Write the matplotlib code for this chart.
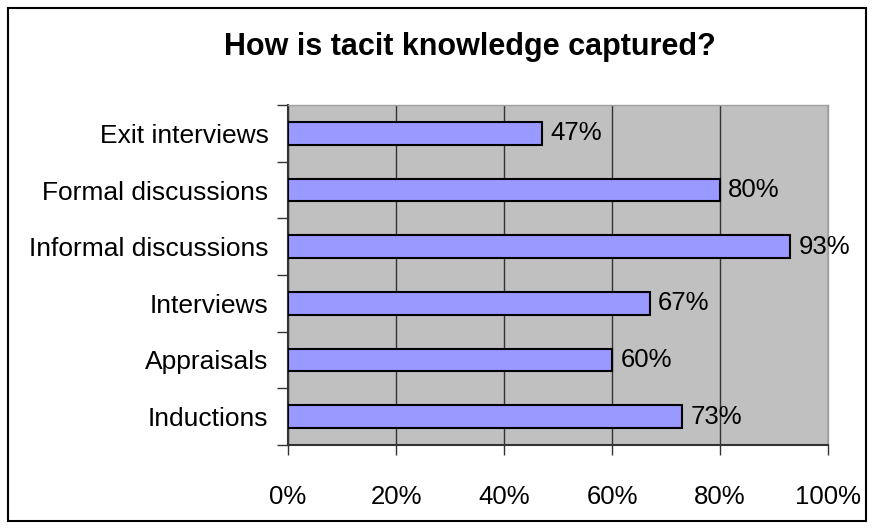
import matplotlib.pyplot as plt
from matplotlib.patches import Rectangle
from matplotlib.ticker import FixedLocator

plt.rcParams['font.family'] = ['Liberation Sans', 'DejaVu Sans']

# Survey results, bottom to top as drawn
categories = ['Inductions', 'Appraisals', 'Interviews',
              'Informal discussions', 'Formal discussions', 'Exit interviews']
percentages = [73, 60, 67, 93, 80, 47]
xtick_values = [0, 20, 40, 60, 80, 100]

fig = plt.figure(figsize=(8.73, 5.28), dpi=100)
fig.patch.set_facecolor('white')

# Chart frame around the whole figure
fig.add_artist(Rectangle((7.5 / 873, 7.5 / 528), 1 - 15 / 873, 1 - 15 / 528,
                         transform=fig.transFigure, fill=False,
                         edgecolor='black', linewidth=1.5))

ax = fig.add_axes([288 / 873, 1 - 445 / 528, 540 / 873, 340 / 528])
ax.set_facecolor('#C0C0C0')

y = range(len(categories))
ax.barh(y, percentages, height=0.4, color='#9999FF', edgecolor='black',
        linewidth=1.5, zorder=3)
for yi, v in zip(y, percentages):
    ax.annotate(f'{v}%', (v, yi), xytext=(6, 0), textcoords='offset points',
                va='center', ha='left', fontsize=18.5, zorder=4)

ax.set_xlim(0, 100)
ax.set_ylim(-0.5, len(categories) - 0.5)
ax.set_xticks(xtick_values)
ax.set_xticklabels([f'{v}%' for v in xtick_values], fontsize=18.5)
ax.set_yticks(list(y))
ax.set_yticklabels(categories, fontsize=19)
ax.yaxis.set_major_locator(FixedLocator(list(y)))
ax.tick_params(axis='y', length=0, pad=14)
ax.tick_params(axis='x', length=7, width=1, color='#333333', direction='out', pad=22)

# Category separators on the value axis
ax.set_yticks([i - 0.5 for i in range(len(categories) + 1)], minor=True)
ax.tick_params(axis='y', which='minor', length=8, width=1, color='#333333')

ax.xaxis.grid(True, color='#333333', linewidth=1, zorder=1)
ax.set_axisbelow(True)

for side in ('top', 'right'):
    ax.spines[side].set_color('#A0A0A0')
    ax.spines[side].set_linewidth(1)
for side in ('left', 'bottom'):
    ax.spines[side].set_color('#333333')
    ax.spines[side].set_linewidth(1.5)

fig.text(0.538, 1 - 47 / 528, 'How is tacit knowledge captured?',
         ha='center', va='center', fontsize=22, fontweight='bold')

fig.savefig('out.png', dpi=100)
